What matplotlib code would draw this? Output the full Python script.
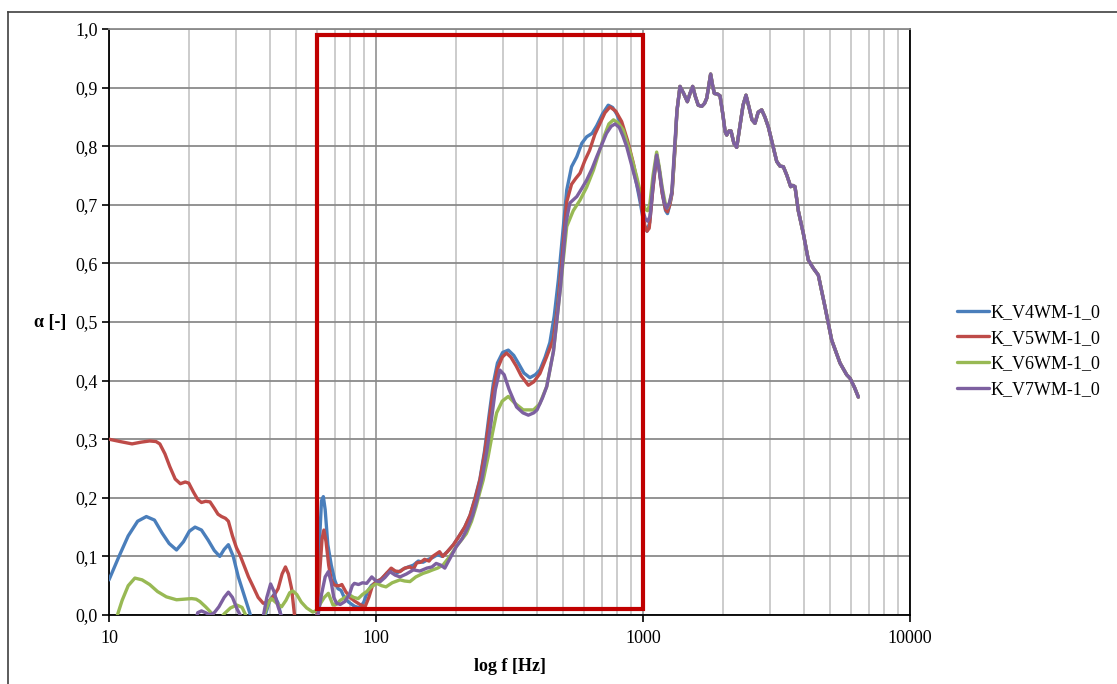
import matplotlib
matplotlib.use("Agg")
import matplotlib.pyplot as plt
from matplotlib.lines import Line2D
from matplotlib.patches import Rectangle
from matplotlib.ticker import FixedLocator, FuncFormatter, NullFormatter

plt.rcParams['font.family'] = ['Liberation Serif', 'DejaVu Serif']

# ---------------------------------------------------------------- data
series_names = ["K_V4WM-1_0", "K_V5WM-1_0", "K_V6WM-1_0", "K_V7WM-1_0"]
series_colors = ["#4A7EBB", "#BE4B48", "#98B954", "#7D60A0"]

# shared high-frequency part (all four specimens coincide above ~1.3 kHz)
hf_freq = [1340, 1376, 1420, 1466, 1500, 1535, 1570, 1610, 1660, 1700, 1733,
           1765, 1792, 1820, 1850, 1900, 1943, 1990, 2030, 2058, 2100, 2136,
           2190, 2244, 2300, 2370, 2431, 2490, 2560, 2627, 2700, 2783, 2860,
           2947, 3050, 3168, 3260, 3355, 3460, 3573, 3640, 3709, 3816, 3986,
           4159, 4340, 4536, 4804, 5090, 5468, 5791, 5962, 6200, 6405]
hf_alpha = [0.860, 0.902, 0.890, 0.876, 0.890, 0.902, 0.885, 0.870, 0.868,
            0.873, 0.882, 0.905, 0.923, 0.905, 0.890, 0.889, 0.886, 0.855,
            0.825, 0.819, 0.826, 0.826, 0.805, 0.798, 0.830, 0.870, 0.887,
            0.868, 0.845, 0.839, 0.858, 0.862, 0.850, 0.833, 0.805, 0.774,
            0.766, 0.765, 0.750, 0.731, 0.733, 0.731, 0.690, 0.651, 0.606,
            0.592, 0.580, 0.526, 0.469, 0.430, 0.410, 0.404, 0.388, 0.372]

v4_freq = [10.0, 10.9, 11.8, 12.8, 13.8, 14.8, 15.8, 16.8, 17.9, 19.0, 20.0,
           21.0, 22.2, 23.5, 24.8, 26.0, 27.0, 28.0, 29.2, 30.5, 32.0, 33.7,
           35.0, 37.0, 38.5, 40.0, 41.5, 43.0, 44.5, 46.0, 59.5, 60.3, 61.5,
           62.5, 63.5, 64.5, 66.0, 68.0, 70.0, 72.0, 74.0, 76.0, 79.0, 83.0,
           87.0, 90.0, 93.0, 96.0, 100, 105, 110, 115, 120, 126, 132, 138,
           144, 150, 157, 163, 170, 177, 185, 195, 205, 215, 225, 235, 245,
           255, 265, 275, 285, 298, 313, 328, 341, 358, 377, 395, 411, 430,
           448, 465, 482, 500, 518, 540, 565, 590, 615, 645, 671, 705, 741,
           770, 797, 830, 869, 905, 947, 980, 1010, 1035, 1060, 1090, 1125,
           1150, 1180, 1215, 1235, 1260, 1285, 1315]
v4_alpha = [0.060, 0.100, 0.135, 0.160, 0.168, 0.162, 0.140, 0.122, 0.111,
            0.125, 0.143, 0.150, 0.145, 0.128, 0.110, 0.100, 0.112, 0.120,
            0.100, 0.065, 0.035, 0.003, -0.030, -0.030, 0.000, 0.025, 0.035,
            0.020, -0.010, -0.040, -0.040, 0.020, 0.130, 0.195, 0.202, 0.180,
            0.120, 0.085, 0.060, 0.045, 0.042, 0.030, 0.022, 0.015, 0.012,
            0.022, 0.040, 0.050, 0.056, 0.062, 0.072, 0.078, 0.072, 0.078,
            0.082, 0.085, 0.092, 0.090, 0.095, 0.098, 0.103, 0.100, 0.108,
            0.120, 0.135, 0.150, 0.170, 0.200, 0.232, 0.280, 0.340, 0.395,
            0.430, 0.448, 0.452, 0.443, 0.430, 0.413, 0.405, 0.410, 0.418,
            0.440, 0.465, 0.510, 0.572, 0.650, 0.725, 0.765, 0.782, 0.805,
            0.816, 0.822, 0.835, 0.855, 0.870, 0.866, 0.855, 0.835, 0.805,
            0.775, 0.735, 0.700, 0.665, 0.655, 0.670, 0.730, 0.785, 0.760,
            0.720, 0.690, 0.685, 0.700, 0.720, 0.790]

v5_freq = [10.0, 11.0, 12.2, 13.2, 14.2, 15.0, 15.5, 16.2, 16.9, 17.7, 18.5,
           19.3, 19.9, 20.7, 21.5, 22.2, 23.0, 23.9, 24.8, 25.6, 26.4, 27.3,
           28.0, 29.0, 30.0, 30.9, 32.0, 33.3, 34.7, 36.2, 37.8, 39.5, 41.2,
           43.0, 44.5, 45.8, 47.0, 48.3, 49.6, 51.0, 59.5, 60.3, 61.5, 62.8,
           63.8, 65.0, 66.5, 68.0, 69.5, 71.0, 73.0, 74.5, 77.0, 80.0, 83.0,
           87.0, 91.0, 94.0, 97.0, 100.6, 104, 108, 114, 118, 123, 128, 134,
           138, 142, 147, 152, 158, 163, 168, 173, 178, 185, 195, 205, 215,
           225, 235, 245, 255, 265, 275, 285, 297, 308, 320, 335, 350, 372,
           390, 411, 435, 461, 480, 500, 518, 540, 560, 581, 605, 631, 660,
           690, 720, 752, 790, 832, 875, 920, 960, 989, 1015, 1035, 1055,
           1085, 1125, 1150, 1180, 1215, 1235, 1260, 1285, 1315]
v5_alpha = [0.300, 0.296, 0.292, 0.295, 0.297, 0.296, 0.292, 0.275, 0.253,
            0.232, 0.224, 0.227, 0.225, 0.210, 0.197, 0.192, 0.194, 0.193,
            0.182, 0.172, 0.168, 0.165, 0.160, 0.135, 0.115, 0.103, 0.085,
            0.065, 0.048, 0.030, 0.020, 0.022, 0.031, 0.045, 0.070, 0.082,
            0.070, 0.045, -0.003, -0.050, -0.050, 0.005, 0.070, 0.130, 0.145,
            0.125, 0.085, 0.060, 0.052, 0.050, 0.050, 0.052, 0.040, 0.030,
            0.024, 0.018, 0.014, 0.030, 0.050, 0.058, 0.060, 0.068, 0.080,
            0.075, 0.074, 0.080, 0.082, 0.078, 0.089, 0.090, 0.095, 0.092,
            0.100, 0.104, 0.108, 0.100, 0.108, 0.120, 0.135, 0.150, 0.170,
            0.198, 0.230, 0.275, 0.330, 0.385, 0.420, 0.440, 0.447, 0.440,
            0.425, 0.408, 0.392, 0.398, 0.412, 0.440, 0.470, 0.530, 0.620,
            0.705, 0.735, 0.745, 0.754, 0.775, 0.793, 0.820, 0.839, 0.857,
            0.867, 0.860, 0.842, 0.810, 0.771, 0.730, 0.697, 0.665, 0.655,
            0.660, 0.720, 0.785, 0.760, 0.720, 0.692, 0.688, 0.700, 0.720,
            0.790]

v6_freq = [10.4, 10.7, 11.2, 11.8, 12.5, 13.3, 14.2, 15.2, 16.4, 17.9, 19.2,
           20.4, 21.2, 21.9, 23.0, 23.9, 25.0, 25.8, 27.0, 28.5, 30.1, 31.5,
           32.5, 33.5, 37.0, 38.5, 39.5, 40.6, 42.5, 44.3, 46.0, 47.5, 48.8,
           50.5, 52.5, 55.0, 58.0, 60.0, 62.0, 64.0, 66.3, 67.5, 69.0, 71.0,
           73.5, 76.5, 79.8, 82.5, 85.8, 89.0, 92.3, 96.0, 100.6, 105, 109,
           115, 123, 128, 134, 141, 150, 157, 163, 170, 178, 189, 200, 209,
           218, 228, 237, 245, 252, 263, 273, 283, 297, 313, 330, 356, 389,
           410, 436, 462, 491, 518, 548, 581, 615, 652, 685, 714, 745, 775,
           805, 843, 895, 947, 990, 1020, 1040, 1060, 1090, 1125, 1150, 1180,
           1215, 1235, 1260, 1285, 1315]
v6_alpha = [-0.030, -0.003, 0.025, 0.050, 0.063, 0.060, 0.052, 0.040, 0.031,
            0.026, 0.027, 0.028, 0.027, 0.023, 0.014, 0.006, -0.005, -0.010,
            0.002, 0.012, 0.017, 0.013, 0.000, -0.020, -0.020, 0.005, 0.020,
            0.028, 0.020, 0.014, 0.025, 0.038, 0.041, 0.035, 0.022, 0.012,
            0.005, 0.008, 0.020, 0.030, 0.037, 0.028, 0.017, 0.018, 0.025,
            0.030, 0.034, 0.030, 0.028, 0.035, 0.040, 0.048, 0.054, 0.050,
            0.048, 0.055, 0.060, 0.058, 0.057, 0.065, 0.071, 0.074, 0.077,
            0.080, 0.085, 0.100, 0.117, 0.128, 0.139, 0.160, 0.185, 0.210,
            0.230, 0.270, 0.310, 0.345, 0.365, 0.373, 0.362, 0.350, 0.350,
            0.360, 0.390, 0.450, 0.560, 0.663, 0.690, 0.708, 0.730, 0.759,
            0.790, 0.816, 0.838, 0.845, 0.840, 0.828, 0.790, 0.748, 0.710,
            0.692, 0.690, 0.700, 0.750, 0.790, 0.765, 0.730, 0.700, 0.695,
            0.705, 0.725, 0.795]

v7_freq = [20.8, 21.5, 22.2, 23.0, 23.9, 24.8, 25.8, 27.0, 28.0, 29.0, 30.2,
           31.4, 32.5, 36.5, 37.8, 39.0, 40.3, 41.5, 43.0, 44.3, 45.5, 59.8,
           60.8, 62.5, 64.5, 66.3, 68.0, 69.5, 71.2, 73.5, 76.5, 79.5, 81.5,
           83.0, 86.0, 89.0, 92.3, 94.5, 96.4, 100, 103.7, 108, 112.8, 118,
           123, 130, 138, 146, 155, 162, 168, 175, 181, 190, 200, 210, 220,
           230, 240, 250, 260, 270, 280, 291, 302, 315, 336, 355, 372, 390,
           401, 420, 436, 462, 491, 515, 532, 565, 590, 615, 645, 671, 700,
           730, 760, 786, 815, 840, 869, 910, 960, 1000, 1020, 1040, 1062,
           1095, 1125, 1150, 1175, 1200, 1226, 1255, 1281, 1310]
v7_alpha = [-0.020, 0.004, 0.007, 0.004, 0.000, 0.004, 0.014, 0.030, 0.039,
            0.030, 0.010, -0.005, -0.030, -0.030, -0.003, 0.030, 0.053, 0.040,
            0.014, -0.003, -0.030, -0.030, 0.003, 0.035, 0.065, 0.074, 0.055,
            0.030, 0.020, 0.018, 0.023, 0.035, 0.050, 0.054, 0.052, 0.055,
            0.054, 0.060, 0.065, 0.058, 0.057, 0.064, 0.074, 0.068, 0.065,
            0.070, 0.077, 0.075, 0.080, 0.082, 0.088, 0.085, 0.080, 0.098,
            0.117, 0.130, 0.148, 0.170, 0.200, 0.235, 0.280, 0.330, 0.385,
            0.418, 0.410, 0.385, 0.355, 0.345, 0.341, 0.345, 0.350, 0.370,
            0.390, 0.450, 0.560, 0.670, 0.703, 0.714, 0.728, 0.742, 0.762,
            0.782, 0.802, 0.822, 0.834, 0.838, 0.832, 0.818, 0.799, 0.765,
            0.725, 0.690, 0.676, 0.672, 0.680, 0.745, 0.785, 0.760, 0.731,
            0.705, 0.694, 0.703, 0.720, 0.790]

series_freq = [v4_freq, v5_freq, v6_freq, v7_freq]
series_alpha = [v4_alpha, v5_alpha, v6_alpha, v7_alpha]

# frequency band of interest, highlighted by a frame
band_f = [60, 1000]
band_alpha = [0.01, 0.99]

x_ticks = [10, 100, 1000, 10000]
y_ticks = [0.0, 0.1, 0.2, 0.3, 0.4, 0.5, 0.6, 0.7, 0.8, 0.9, 1.0]

# ---------------------------------------------------------------- figure
W, H = 1117, 684
fig = plt.figure(figsize=(W / 100, H / 100), dpi=100)
ax = fig.add_axes([109 / W, 1 - 615 / H, (910 - 109) / W, (615 - 29) / H])

ax.set_xscale('log')
ax.set_xlim(10, 10000)
ax.set_ylim(0, 1.0)

# grid
ax.xaxis.set_major_locator(FixedLocator(x_ticks))
minor = [m * d for d in (10, 100, 1000) for m in range(2, 10)]
ax.xaxis.set_minor_locator(FixedLocator(minor))
ax.xaxis.set_minor_formatter(NullFormatter())
ax.xaxis.set_major_formatter(FuncFormatter(lambda v, p: f"{int(round(v))}"))
ax.yaxis.set_major_locator(FixedLocator(y_ticks))
ax.yaxis.set_major_formatter(FuncFormatter(lambda v, p: f"{v:.1f}".replace('.', ',')))

ax.grid(True, which='major', axis='y', color='#8a8a8a', lw=1.3)
ax.grid(True, which='major', axis='x', color='#9a9a9a', lw=1.3)
ax.grid(True, which='minor', axis='x', color='#c8c8c8', lw=1.3)
ax.set_axisbelow(True)

ax.tick_params(axis='both', which='major', direction='out', length=5,
               width=1.2, color='black', labelsize=13, pad=3)
ax.tick_params(axis='x', which='minor', length=0)
ax.tick_params(axis='x', which='major', pad=6)

for side in ('left', 'bottom', 'right'):
    ax.spines[side].set_color('black')
    ax.spines[side].set_linewidth(1.3)
ax.spines['top'].set_color('#8a8a8a')
ax.spines['top'].set_linewidth(1.3)

# curves
for f, a, c, n in zip(series_freq, series_alpha, series_colors, series_names):
    ax.plot(list(f) + hf_freq, list(a) + hf_alpha, color=c, lw=2.4,
            label=n, solid_joinstyle='round', solid_capstyle='round', zorder=3)

# highlighted band
ax.add_patch(Rectangle((band_f[0], band_alpha[0]), band_f[1] - band_f[0],
                       band_alpha[1] - band_alpha[0], fill=False,
                       edgecolor='#C00000', lw=3.0, zorder=4,
                       joinstyle='miter'))

ax.set_xlabel('log f [Hz]', fontsize=13, fontweight='bold', labelpad=8)
fig.text(50 / W, 1 - 322 / H, 'α [-]', fontsize=13, fontweight='bold',
         ha='center', va='center')

fig.legend(loc='center left', bbox_to_anchor=(950 / W, 1 - 351 / H),
           frameon=False, fontsize=13, handlelength=1.75, handletextpad=0.1,
           labelspacing=0.48, borderaxespad=0)

# outer frame of the figure
fig.add_artist(Line2D([8 / W, 8 / W], [0, 1 - 12 / H], transform=fig.transFigure,
                      color='#404040', lw=1.2))
fig.add_artist(Line2D([8 / W, 1], [1 - 12 / H, 1 - 12 / H],
                      transform=fig.transFigure, color='#404040', lw=1.2))

fig.savefig('out.png', dpi=100)
